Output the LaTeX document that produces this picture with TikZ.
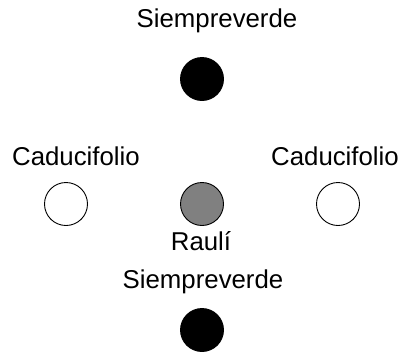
\documentclass[tikz,border=0pt]{standalone}
\usepackage{fontspec}
\setmainfont{Liberation Sans}
\begin{document}
\begin{tikzpicture}[x=1pt,y=-1pt,
  lbl/.style={anchor=base,inner sep=0pt,font=\fontsize{25.8}{30}\selectfont},
  dot/.style={circle,draw=black,line width=0.9pt,minimum size=43pt,inner sep=0pt}]
\useasboundingbox (0,0) rectangle (407,354);
\node[lbl] (t1) at (217,27) {Siempreverde};
\node[dot,fill=black] (c1) at (202,79) {};
\node[lbl] (t2) at (76,165) {Caducifolio};
\node[lbl] (t3) at (335,165) {Caducifolio};
\node[dot,fill=white] (c2) at (66,204) {};
\node[dot,fill=gray] (c3) at (202,204) {};
\node[dot,fill=white] (c4) at (338,204) {};
\node[lbl] (t4) at (201,250) {Raulí};
\node[lbl] (t5) at (203,288) {Siempreverde};
\node[dot,fill=black] (c5) at (202,330) {};
\end{tikzpicture}
\end{document}
